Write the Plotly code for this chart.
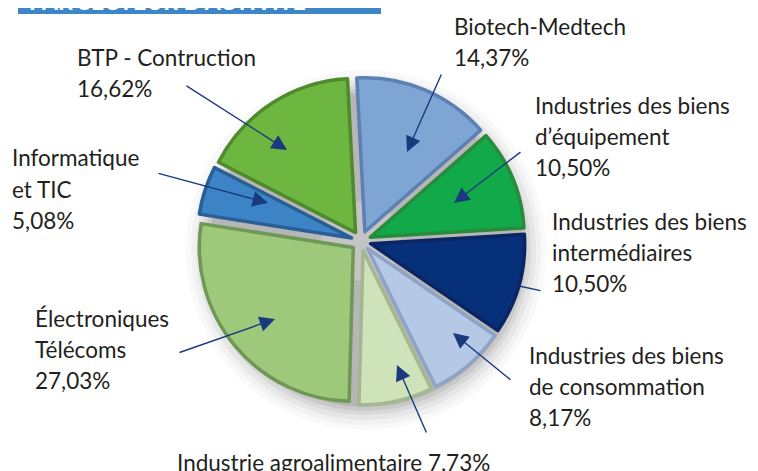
import plotly.graph_objects as go

W, H = 758, 471
OFF = 8  # page body margin offset (screen pixels)

sectors = ["Biotech-Medtech", "Industries des biens d’équipement",
           "Industries des biens intermédiaires", "Industries des biens de consommation",
           "Industrie agroalimentaire", "Électroniques Télécoms",
           "Informatique et TIC", "BTP - Contruction"]
values = [14.37, 10.50, 10.50, 8.17, 7.73, 27.03, 5.08, 16.62]
label_lines = [["Biotech-Medtech"],
               ["Industries des biens", "d’équipement"],
               ["Industries des biens", "intermédiaires"],
               ["Industries des biens", "de consommation"],
               ["Industrie agroalimentaire"],
               ["Électroniques", "Télécoms"],
               ["Informatique", "et TIC"],
               ["BTP - Contruction"]]
colors = ["#7fa5d5", "#12a94b", "#06307a", "#b5c9e6", "#cfe3bb", "#9ec97b", "#3c84c6", "#6db640"]
edge_colors = ["#5b80b2", "#2a8a3c", "#0b2563", "#8ea3c6", "#a3b891", "#6f9755", "#2a5f96", "#4f8a2c"]
title = "PAR SECTEUR D’ACTIVITÉ"

# label text anchor (left x, first line y) and arrow tail/head (screen pixels)
label_pos = [(452, 27), (533, 106), (550, 221), (527, 355), (175, 462), (33, 318), (10, 158), (75, 58)]
inline_pct = [False, False, False, False, True, False, False, False]
arrow_tail = [(442, 73), (522, 151), (542, 291), (512, 381), (427, 434), (178, 353), (157, 173), (185, 85)]
arrow_head = [(407, 152), (454, 203), (519, 286), (453, 333), (397, 365), (275, 319), (268, 203), (287, 150)]
arrow_has_head = [True, True, False, True, True, True, True, True]

cx, cy, r, pull_px = 361, 241, 154, 10
pull = pull_px / r
half = r * (1 + pull)

def px(x):
    return (x - OFF) / W

def py(y):
    return 1 - (y - OFF) / H

fig = go.Figure()
fig.add_trace(go.Pie(
    labels=sectors, values=values, sort=False, direction="clockwise", rotation=-3,
    pull=[pull] * len(values), textinfo="none", hoverinfo="label+percent",
    marker=dict(colors=colors, line=dict(color=edge_colors, width=3.5)),
    domain=dict(x=[px(cx - half), px(cx + half)], y=[py(cy + half), py(cy - half)]),
    showlegend=False,
))

shapes = []
# soft shadow
for dr, op in [(26, 0.04), (21, 0.05), (16, 0.07), (11, 0.09), (7, 0.12), (3, 0.16)]:
    sx, sy = cx + 5, cy + 9
    rr = r + dr
    shapes.append(dict(type="circle", xref="paper", yref="paper", layer="below",
                       x0=px(sx - rr), x1=px(sx + rr), y0=py(sy + rr), y1=py(sy - rr),
                       fillcolor=f"rgba(90,90,90,{op})", line=dict(width=0)))
shapes.append(dict(type="circle", xref="paper", yref="paper", layer="below",
                   x0=px(cx - 40), x1=px(cx + 40), y0=py(cy + 40), y1=py(cy - 40),
                   fillcolor="rgba(200,200,200,0.8)", line=dict(width=0)))
# title band
shapes.append(dict(type="rect", xref="paper", yref="paper", layer="above",
                   x0=px(18), x1=px(381), y0=py(14), y1=py(-5),
                   fillcolor="#3d87c8", line=dict(width=0)))

annotations = [dict(text=f"<b>{title}</b>", xref="paper", yref="paper", x=px(27), y=py(1),
                    xanchor="left", yanchor="middle", showarrow=False,
                    font=dict(family="Lato", size=23, color="white"))]

font = dict(family="Lato", size=22.5, color="#231f20")
line_gap = 31
for lines, v, (lx, ly), inl in zip(label_lines, values, label_pos, inline_pct):
    pct = f"{v:.2f}".replace(".", ",") + "%"
    all_lines = [lines[0] + " " + pct] if inl else lines + [pct]
    for k, t in enumerate(all_lines):
        annotations.append(dict(text=t, xref="paper", yref="paper", x=px(lx), y=py(ly + k * line_gap),
                                xanchor="left", yanchor="middle", showarrow=False, font=font))

for (tx, ty), (hx, hy), hh in zip(arrow_tail, arrow_head, arrow_has_head):
    annotations.append(dict(text="", xref="paper", yref="paper", x=px(hx), y=py(hy),
                            ax=tx - hx, ay=ty - hy, axref="pixel", ayref="pixel",
                            showarrow=True, arrowhead=2 if hh else 0, arrowsize=2.2,
                            arrowwidth=1.4, arrowcolor="#1b3a7e", standoff=0))

fig.update_layout(width=W, height=H, margin=dict(l=0, r=0, t=0, b=0),
                  paper_bgcolor="white", plot_bgcolor="white",
                  shapes=shapes, annotations=annotations)
fig.write_html("out.html")
